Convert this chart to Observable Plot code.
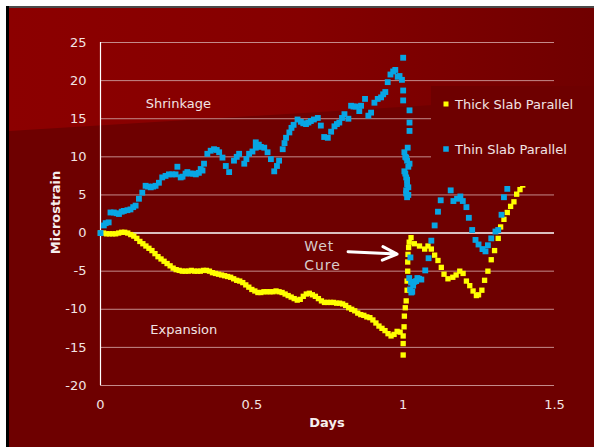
<!DOCTYPE html>
<html><head><meta charset="utf-8">
<script src="https://cdn.jsdelivr.net/npm/d3@7"></script>
<script src="https://cdn.jsdelivr.net/npm/@observablehq/plot@0.6"></script>
<style>
html,body{margin:0;padding:0;background:#fff;}
#wrap{position:relative;width:594px;height:447px;overflow:hidden;background:#6E0000;}
#deco{position:absolute;left:0;top:0;}
#chart{position:absolute;left:0;top:0;}
</style></head><body>
<div id="wrap">
<svg id="deco" width="594" height="447">
 <defs><linearGradient id="lg" x1="0" x2="1" y1="0" y2="0">
  <stop offset="0" stop-color="#8C0000"/><stop offset="0.5" stop-color="#850000"/><stop offset="1" stop-color="#700000"/>
 </linearGradient></defs>
 <rect x="0" y="0" width="594" height="447" fill="#6E0000"/>
 <polygon points="9,8 594,8 594,95 9,131" fill="url(#lg)"/>
 <rect x="0" y="0" width="594" height="6" fill="#fff"/>
 <rect x="0" y="0" width="6" height="447" fill="#fff"/>
 <rect x="6" y="6" width="588" height="2" fill="#4a4a4a"/>
 <rect x="6" y="6" width="3" height="441" fill="#000"/>
</svg>
<div id="chart"></div>
</div>
<script>
// ---- data (days, microstrain) ----
const seriesNames = ["Thick Slab Parallel", "Thin Slab Parallel"];
const seriesColors = ["#FFFF00", "#08A6E4"];
const xTicks = [0, 0.5, 1, 1.5];
const yTicks = [-20, -15, -10, -5, 0, 5, 10, 15, 20, 25];

const thickSlab = [
[0.00,0],[0.01,0],[0.02,-0.1],[0.03,-0.1],[0.04,-0.1],[0.05,-0.1],[0.06,0],[0.07,0.1],[0.08,0.1],[0.09,0],
[0.10,-0.2],[0.11,-0.4],[0.12,-0.7],[0.13,-1.1],[0.14,-1.4],[0.15,-1.7],[0.16,-2.0],[0.17,-2.3],[0.18,-2.7],[0.19,-3.1],
[0.20,-3.4],[0.21,-3.7],[0.22,-4.0],[0.23,-4.3],[0.24,-4.6],[0.25,-4.8],[0.26,-4.9],[0.27,-5.0],[0.28,-5.0],[0.29,-5.0],
[0.30,-4.9],[0.31,-5.0],[0.32,-5.0],[0.33,-5.0],[0.34,-4.9],[0.35,-4.9],[0.36,-5.0],[0.37,-5.2],[0.38,-5.3],[0.39,-5.4],
[0.40,-5.5],[0.41,-5.6],[0.42,-5.7],[0.43,-5.8],[0.44,-6.0],[0.45,-6.2],[0.46,-6.3],[0.47,-6.5],[0.48,-6.8],[0.49,-7.1],
[0.50,-7.4],[0.51,-7.6],[0.52,-7.8],[0.53,-7.8],[0.54,-7.7],[0.55,-7.7],[0.56,-7.7],[0.57,-7.7],[0.58,-7.6],[0.59,-7.7],
[0.60,-7.8],[0.61,-8.0],[0.62,-8.2],[0.63,-8.4],[0.64,-8.6],[0.65,-8.8],[0.66,-8.7],[0.67,-8.3],[0.68,-8.0],[0.69,-7.9],
[0.70,-8.1],[0.71,-8.3],[0.72,-8.6],[0.73,-8.9],[0.74,-9.1],[0.75,-9.1],[0.76,-9.1],[0.77,-9.1],[0.78,-9.2],[0.79,-9.2],
[0.80,-9.3],[0.81,-9.5],[0.82,-9.8],[0.83,-10.0],[0.84,-10.2],[0.85,-10.5],[0.86,-10.7],[0.87,-10.8],[0.88,-11.0],[0.89,-11.1],
[0.90,-11.4],[0.91,-11.8],[0.92,-12.2],[0.93,-12.5],[0.94,-12.8],[0.95,-13.2],[0.96,-13.5],[0.97,-13.3],[0.98,-12.9],[0.99,-13.0],
[1.000,-13.5],[1.000,-14.5],[1.000,-16.0],[1.003,-12.3],[1.004,-10.9],[1.007,-9.8],[1.010,-8.9],[1.013,-7.5],[1.013,-6.3],
[1.015,-5.0],[1.015,-3.8],[1.016,-2.8],[1.018,-1.9],[1.020,-1.2],[1.026,-0.6],[1.037,-1.4],[1.054,-1.7],[1.071,-2.1],
[1.082,-1.7],[1.093,-2.1],[1.104,-2.9],[1.115,-3.6],[1.126,-4.5],[1.135,-5.4],[1.148,-6.0],[1.164,-5.8],[1.175,-5.5],
[1.187,-5.0],[1.198,-5.3],[1.209,-6.3],[1.220,-6.9],[1.231,-7.6],[1.242,-8.2],[1.249,-8.1],[1.260,-7.5],[1.269,-6.2],
[1.280,-5.0],[1.291,-3.5],[1.302,-2.3],[1.314,-0.7],[1.322,0.8],[1.333,1.8],[1.344,2.7],[1.355,3.5],[1.366,4.1],
[1.375,5.1],[1.386,5.7],[1.395,6.3],[1.406,6.9],[1.417,7.3],[1.428,7.7]
];

const thinSlab = [
[0,0],[0.011,1.0],[0.017,1.3],[0.027,1.4],[0.033,2.7],[0.044,2.7],[0.053,2.6],[0.061,2.5],[0.070,2.8],[0.077,2.9],
[0.089,3.0],[0.099,3.1],[0.108,3.4],[0.116,3.6],[0.127,4.5],[0.138,5.3],[0.149,6.2],[0.157,6.1],[0.166,6.0],[0.174,6.1],
[0.182,6.2],[0.193,6.6],[0.204,7.3],[0.215,7.5],[0.226,7.7],[0.237,7.7],[0.248,7.7],[0.254,8.7],[0.265,7.3],[0.271,7.4],
[0.281,7.8],[0.287,8.0],[0.298,7.8],[0.306,7.8],[0.315,7.7],[0.325,7.9],[0.331,8.4],[0.337,8.2],[0.342,9.1],[0.353,10.4],
[0.364,10.8],[0.375,11.0],[0.384,10.9],[0.392,10.6],[0.403,9.9],[0.414,8.8],[0.425,8.0],[0.441,9.5],[0.450,10.0],[0.458,10.4],
[0.475,9.1],[0.482,9.7],[0.491,10.4],[0.502,10.7],[0.513,11.2],[0.513,11.9],[0.523,11.6],[0.530,11.3],[0.541,11.2],[0.552,10.6],
[0.563,9.7],[0.574,8.1],[0.583,8.8],[0.590,9.5],[0.602,11.0],[0.608,11.8],[0.613,12.5],[0.624,13.2],[0.631,13.8],[0.638,14.2],
[0.651,14.9],[0.662,14.6],[0.670,14.4],[0.679,14.3],[0.687,14.5],[0.695,14.7],[0.705,14.9],[0.718,15.1],[0.728,14.1],[0.739,12.6],
[0.751,12.5],[0.762,13.3],[0.773,14.0],[0.781,14.3],[0.789,14.5],[0.798,15.1],[0.806,15.6],[0.819,15.0],[0.828,16.7],[0.836,16.6],
[0.844,16.6],[0.855,16.0],[0.861,16.7],[0.874,17.6],[0.885,15.4],[0.894,15.8],[0.905,17.1],[0.916,17.6],[0.927,17.8],[0.934,18.2],
[0.941,18.5],[0.949,19.8],[0.958,20.8],[0.967,21.2],[0.974,21.4],[0.982,20.5],[0.988,20.6],[0.996,20.1],[1.000,23.0],[1.000,18.7],
[1.000,17.4],[1.021,16.1],[1.021,14.5],[1.021,13.4],[1.015,11.2],[1.004,10.6],[1.010,9.9],[1.021,9.1],[1.007,10.0],[1.013,9.5],
[1.017,8.7],[1.004,8.1],[1.010,7.3],[1.007,7.8],[1.013,7.0],[1.013,6.4],[1.017,6.0],[1.010,5.6],[1.010,5.2],[1.017,5.0],
[1.013,4.7],[1.024,-3.2],[1.020,-5.9],[1.026,-6.5],[1.033,-6.9],[1.023,-7.4],[1.030,-7.7],[1.027,-7.8],[1.037,-6.4],[1.043,-6.3],
[1.047,-5.9],[1.053,-6.0],[1.060,-6.1],[1.073,-4.9],[1.084,-3.3],[1.093,-1.0],[1.104,1.0],[1.115,2.8],[1.124,4.3],[1.157,5.6],
[1.166,4.2],[1.178,4.5],[1.189,4.8],[1.197,4.2],[1.209,3.4],[1.217,2.0],[1.228,0.4],[1.239,-0.9],[1.249,-1.5],[1.262,-2.1],
[1.272,-2.4],[1.280,-1.6],[1.291,-0.7],[1.305,0.2],[1.314,0.4],[1.325,2.4],[1.333,4.7],[1.344,5.8],[1.354,6.7],[1.365,7.5],
[1.376,7.7]
];

const regionLabels = ["Shrinkage", "Expansion"];
const regionX = [0.257, 0.275];
const regionY = [17.0, -12.75];
const noteText = "Wet\nCure";
const noteX = 0.673, noteY = -2.83;
const arrowFrom = [0.818, -2.45], arrowTo = [0.980, -2.76];

const FONT = "DejaVu Sans, Verdana, sans-serif";
const TXT = "#F2E4E4";

const chart = Plot.plot({
  width: 594, height: 447,
  marginLeft: 100, marginRight: 40, marginTop: 42, marginBottom: 62,
  style: {background: "transparent", color: TXT, fontFamily: FONT, fontSize: "13px", overflow: "visible"},
  x: {domain: [0, 1.5], ticks: xTicks, tickSize: 0, tickPadding: 14, label: null, tickFormat: d => String(d)},
  y: {domain: [-20, 25], ticks: yTicks, tickSize: 0, tickPadding: 14, label: null, tickFormat: d => String(d)},
  marks: [
    Plot.ruleY(yTicks.filter(d => d !== 0), {stroke: "#C48A8A", strokeWidth: 1}),
    Plot.ruleY([0], {stroke: "#FFFFFF", strokeWidth: 1.5}),
    Plot.ruleX([0], {stroke: "#FFFFFF", strokeWidth: 1.2}),
    Plot.dot(thickSlab, {x: d => d[0], y: d => d[1], symbol: "square", r: 3.0, fill: seriesColors[0], stroke: "none"}),
    Plot.dot(thinSlab, {x: d => d[0], y: d => d[1], symbol: "square", r: 3.3, fill: seriesColors[1], stroke: "none"}),
    Plot.text(regionLabels, {x: (d, i) => regionX[i], y: (d, i) => regionY[i], text: d => d, fill: TXT, fontSize: 13, fontFamily: FONT, textAnchor: "middle"}),
    Plot.text([noteText], {x: () => noteX, y: () => noteY, text: d => d, fill: "#D8CCCC", fontSize: 14, fontFamily: FONT, textAnchor: "start", lineHeight: 1.3}),
    Plot.arrow([0], {x1: () => arrowFrom[0], y1: () => arrowFrom[1], x2: () => arrowTo[0], y2: () => arrowTo[1], stroke: "#FFFFFF", strokeWidth: 3, headAngle: 50})
  ]
});
document.getElementById("chart").appendChild(chart);

const svg = d3.select(chart);
svg.selectAll("text").filter(function(){ return this.textContent.startsWith("Wet"); }).attr("letter-spacing", "1px");

// axis titles
svg.append("text").attr("transform", "translate(55,212.5) rotate(-90)")
  .attr("text-anchor", "middle").attr("dominant-baseline", "central")
  .attr("fill", "#F6EEEE").attr("font-family", FONT).attr("font-size", 13).attr("font-weight", "bold")
  .text("Microstrain");
svg.append("text").attr("x", 327).attr("y", 422.5)
  .attr("text-anchor", "middle").attr("dominant-baseline", "central")
  .attr("fill", "#F6EEEE").attr("font-family", FONT).attr("font-size", 13).attr("font-weight", "bold")
  .text("Days");

// legend
const lg = svg.append("g");
lg.append("rect").attr("x", 431).attr("y", 86).attr("width", 163).attr("height", 100).attr("fill", "#6E0000");
const legendY = [104, 149];
const legendSize = [5, 5.5];
seriesNames.forEach((name, i) => {
  lg.append("rect").attr("x", 446 - legendSize[i] / 2).attr("y", legendY[i] - legendSize[i] / 2)
    .attr("width", legendSize[i]).attr("height", legendSize[i]).attr("fill", seriesColors[i]);
  lg.append("text").attr("x", 455).attr("y", legendY[i]).attr("dominant-baseline", "central")
    .attr("text-anchor", "start")
    .attr("fill", TXT).attr("font-family", FONT).attr("font-size", 13).text(name);
});
</script>
</body></html>
